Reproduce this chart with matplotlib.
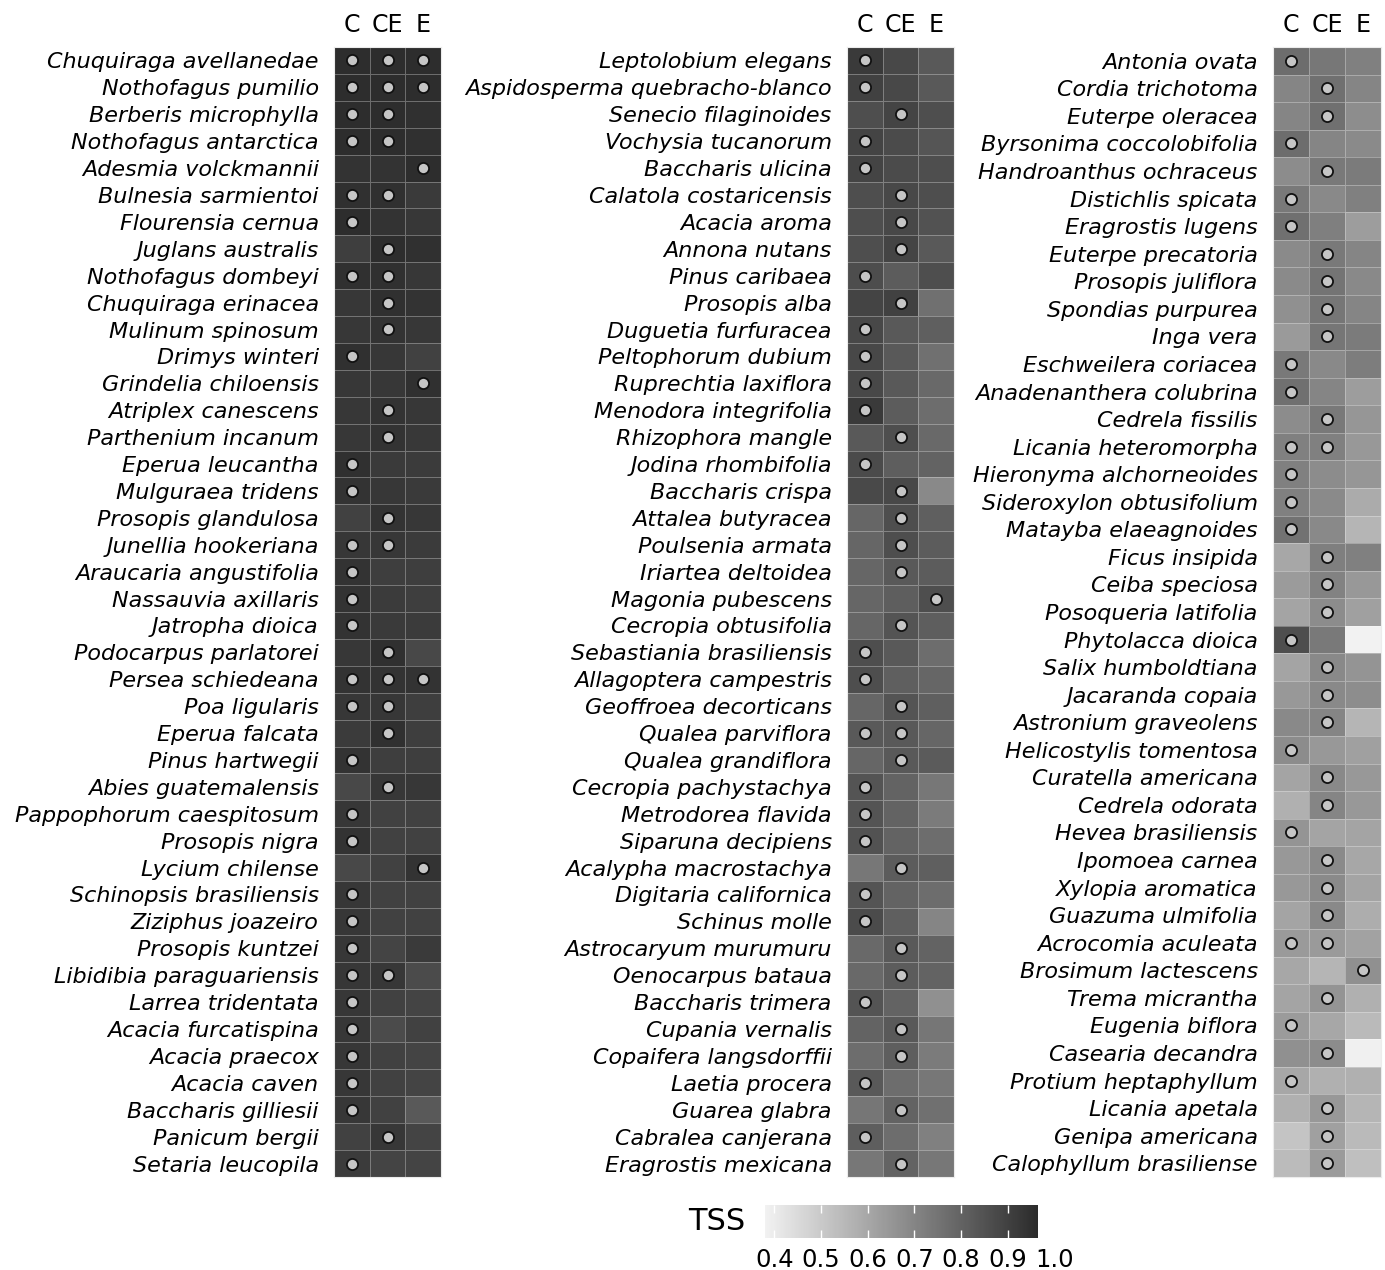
import numpy as np
import matplotlib
matplotlib.use("Agg")
import matplotlib.pyplot as plt
from matplotlib.colors import LinearSegmentedColormap, Normalize
from matplotlib.cm import ScalarMappable
from matplotlib.transforms import blended_transform_factory

plt.rcParams["font.family"] = ["DejaVu Sans"]

MODELS = ["C", "CE", "E"]

# ---- panel 1 -------------------------------------------------------------
SPECIES_1 = [
    "Chuquiraga avellanedae", "Nothofagus pumilio", "Berberis microphylla",
    "Nothofagus antarctica", "Adesmia volckmannii", "Bulnesia sarmientoi",
    "Flourensia cernua", "Juglans australis", "Nothofagus dombeyi",
    "Chuquiraga erinacea", "Mulinum spinosum", "Drimys winteri",
    "Grindelia chiloensis", "Atriplex canescens", "Parthenium incanum",
    "Eperua leucantha", "Mulguraea tridens", "Prosopis glandulosa",
    "Junellia hookeriana", "Araucaria angustifolia", "Nassauvia axillaris",
    "Jatropha dioica", "Podocarpus parlatorei", "Persea schiedeana",
    "Poa ligularis", "Eperua falcata", "Pinus hartwegii",
    "Abies guatemalensis", "Pappophorum caespitosum", "Prosopis nigra",
    "Lycium chilense", "Schinopsis brasiliensis", "Ziziphus joazeiro",
    "Prosopis kuntzei", "Libidibia paraguariensis", "Larrea tridentata",
    "Acacia furcatispina", "Acacia praecox", "Acacia caven",
    "Baccharis gilliesii", "Panicum bergii", "Setaria leucopila",
]
TSS_1_C = [0.96, 0.96, 0.96, 0.96, 0.94, 0.95, 0.96, 0.91, 0.95, 0.93, 0.93,
           0.95, 0.93, 0.93, 0.93, 0.95, 0.94, 0.90, 0.93, 0.94, 0.94, 0.94,
           0.93, 0.94, 0.93, 0.915, 0.94, 0.88, 0.93, 0.94, 0.88, 0.93, 0.93,
           0.93, 0.93, 0.93, 0.93, 0.93, 0.93, 0.93, 0.90, 0.915]
TSS_1_CE = [0.96, 0.96, 0.96, 0.96, 0.94, 0.95, 0.94, 0.96, 0.95, 0.95, 0.94,
            0.93, 0.93, 0.94, 0.94, 0.92, 0.93, 0.94, 0.93, 0.91, 0.915, 0.92,
            0.95, 0.94, 0.93, 0.95, 0.91, 0.93, 0.90, 0.90, 0.90, 0.90, 0.90,
            0.89, 0.93, 0.90, 0.87, 0.90, 0.90, 0.90, 0.93, 0.89]
TSS_1_E = [0.96, 0.96, 0.95, 0.95, 0.96, 0.92, 0.93, 0.95, 0.93, 0.94, 0.93,
           0.90, 0.95, 0.93, 0.925, 0.915, 0.92, 0.93, 0.915, 0.91, 0.91,
           0.915, 0.88, 0.94, 0.91, 0.91, 0.91, 0.93, 0.90, 0.90, 0.94, 0.90,
           0.90, 0.92, 0.87, 0.89, 0.90, 0.89, 0.89, 0.83, 0.89, 0.89]
BEST_1 = ["C CE E", "C CE E", "C CE", "C CE", "E", "C CE", "C", "CE", "C CE",
          "CE", "CE", "C", "E", "CE", "CE", "C", "C", "CE", "C CE", "C", "C",
          "C", "CE", "C CE E", "C CE", "CE", "C", "CE", "C", "C", "E", "C",
          "C", "C", "C CE", "C", "C", "C", "C", "C", "CE", "C"]

# ---- panel 2 -------------------------------------------------------------
SPECIES_2 = [
    "Leptolobium elegans", "Aspidosperma quebracho-blanco",
    "Senecio filaginoides", "Vochysia tucanorum", "Baccharis ulicina",
    "Calatola costaricensis", "Acacia aroma", "Annona nutans",
    "Pinus caribaea", "Prosopis alba", "Duguetia furfuracea",
    "Peltophorum dubium", "Ruprechtia laxiflora", "Menodora integrifolia",
    "Rhizophora mangle", "Jodina rhombifolia", "Baccharis crispa",
    "Attalea butyracea", "Poulsenia armata", "Iriartea deltoidea",
    "Magonia pubescens", "Cecropia obtusifolia", "Sebastiania brasiliensis",
    "Allagoptera campestris", "Geoffroea decorticans", "Qualea parviflora",
    "Qualea grandiflora", "Cecropia pachystachya", "Metrodorea flavida",
    "Siparuna decipiens", "Acalypha macrostachya", "Digitaria californica",
    "Schinus molle", "Astrocaryum murumuru", "Oenocarpus bataua",
    "Baccharis trimera", "Cupania vernalis", "Copaifera langsdorffii",
    "Laetia procera", "Guarea glabra", "Cabralea canjerana",
    "Eragrostis mexicana",
]
TSS_2_C = [0.92, 0.90, 0.86, 0.89, 0.89, 0.86, 0.86, 0.86, 0.865, 0.89, 0.88,
           0.88, 0.88, 0.92, 0.83, 0.87, 0.875, 0.79, 0.79, 0.79, 0.79, 0.79,
           0.86, 0.86, 0.79, 0.83, 0.79, 0.845, 0.845, 0.85, 0.74, 0.845,
           0.87, 0.78, 0.78, 0.845, 0.80, 0.77, 0.83, 0.745, 0.815, 0.74]
TSS_2_CE = [0.88, 0.88, 0.89, 0.87, 0.87, 0.88, 0.88, 0.89, 0.82, 0.90, 0.83,
            0.83, 0.83, 0.82, 0.86, 0.815, 0.88, 0.86, 0.86, 0.83, 0.815,
            0.845, 0.83, 0.81, 0.845, 0.83, 0.83, 0.80, 0.80, 0.80, 0.82,
            0.80, 0.81, 0.83, 0.82, 0.80, 0.83, 0.815, 0.77, 0.80, 0.77, 0.80]
TSS_2_E = [0.83, 0.83, 0.86, 0.84, 0.86, 0.86, 0.85, 0.83, 0.86, 0.76, 0.81,
           0.76, 0.78, 0.77, 0.78, 0.80, 0.69, 0.81, 0.82, 0.82, 0.86, 0.815,
           0.77, 0.79, 0.81, 0.79, 0.825, 0.74, 0.73, 0.77, 0.81, 0.77, 0.70,
           0.80, 0.80, 0.67, 0.745, 0.73, 0.74, 0.76, 0.715, 0.74]
BEST_2 = ["C", "C", "CE", "C", "C", "CE", "CE", "CE", "C", "CE", "C", "C",
          "C", "C", "CE", "C", "CE", "CE", "CE", "CE", "E", "CE", "C", "C",
          "CE", "C CE", "CE", "C", "C", "C", "CE", "C", "C", "CE", "CE", "C",
          "CE", "CE", "C", "CE", "C", "CE"]

# ---- panel 3 -------------------------------------------------------------
SPECIES_3 = [
    "Antonia ovata", "Cordia trichotoma", "Euterpe oleracea",
    "Byrsonima coccolobifolia", "Handroanthus ochraceus", "Distichlis spicata",
    "Eragrostis lugens", "Euterpe precatoria", "Prosopis juliflora",
    "Spondias purpurea", "Inga vera", "Eschweilera coriacea",
    "Anadenanthera colubrina", "Cedrela fissilis", "Licania heteromorpha",
    "Hieronyma alchorneoides", "Sideroxylon obtusifolium",
    "Matayba elaeagnoides", "Ficus insipida", "Ceiba speciosa",
    "Posoqueria latifolia", "Phytolacca dioica", "Salix humboldtiana",
    "Jacaranda copaia", "Astronium graveolens", "Helicostylis tomentosa",
    "Curatella americana", "Cedrela odorata", "Hevea brasiliensis",
    "Ipomoea carnea", "Xylopia aromatica", "Guazuma ulmifolia",
    "Acrocomia aculeata", "Brosimum lactescens", "Trema micrantha",
    "Eugenia biflora", "Casearia decandra", "Protium heptaphyllum",
    "Licania apetala", "Genipa americana", "Calophyllum brasiliense",
]
TSS_3_C = [0.77, 0.70, 0.70, 0.77, 0.68, 0.735, 0.76, 0.685, 0.685, 0.67,
           0.64, 0.735, 0.76, 0.68, 0.715, 0.715, 0.715, 0.755, 0.60, 0.635,
           0.61, 0.86, 0.61, 0.645, 0.69, 0.68, 0.61, 0.575, 0.655, 0.645,
           0.645, 0.61, 0.64, 0.60, 0.61, 0.635, 0.67, 0.60, 0.575, 0.515,
           0.54]
TSS_3_CE = [0.74, 0.76, 0.76, 0.70, 0.735, 0.69, 0.72, 0.735, 0.75, 0.745,
            0.745, 0.69, 0.70, 0.735, 0.715, 0.68, 0.685, 0.69, 0.72, 0.71,
            0.68, 0.735, 0.69, 0.69, 0.70, 0.645, 0.69, 0.70, 0.61, 0.685,
            0.685, 0.69, 0.64, 0.56, 0.655, 0.60, 0.68, 0.575, 0.645, 0.62,
            0.635]
TSS_3_E = [0.715, 0.70, 0.675, 0.685, 0.73, 0.715, 0.63, 0.70, 0.69, 0.70,
           0.73, 0.725, 0.63, 0.65, 0.645, 0.65, 0.59, 0.56, 0.715, 0.645,
           0.62, 0.38, 0.655, 0.675, 0.56, 0.62, 0.645, 0.645, 0.61, 0.60,
           0.61, 0.585, 0.615, 0.67, 0.575, 0.545, 0.386, 0.575, 0.56, 0.545,
           0.53]
BEST_3 = ["C", "CE", "CE", "C", "CE", "C", "C", "CE", "CE", "CE", "CE", "C",
          "C", "CE", "C CE", "C", "C", "C", "CE", "CE", "CE", "C", "CE", "CE",
          "CE", "C", "CE", "CE", "C", "CE", "CE", "CE", "C CE", "E", "CE", "C",
          "CE", "C", "CE", "CE", "CE"]

TSS_MIN, TSS_MAX = 0.38, 0.965
CBAR_TICKS = [0.4, 0.5, 0.6, 0.7, 0.8, 0.9, 1.0]

cmap = LinearSegmentedColormap.from_list("tss", ["#f2f2f2", "#2b2b2b"])
norm = Normalize(vmin=TSS_MIN, vmax=TSS_MAX)

W, H = 1385, 1270
fig = plt.figure(figsize=(W / 100, H / 100), dpi=100)


def draw_panel(left_px, width_px, species, c, ce, e, best):
    ax = fig.add_axes([left_px / W, 1 - 1177 / H, width_px / W, 1130 / H])
    grid = np.column_stack([c, ce, e])
    n = len(species)
    ax.pcolormesh(np.arange(4), np.arange(n + 1), grid, cmap=cmap, norm=norm,
                  edgecolors=(1, 1, 1, 0.3), linewidth=0.6)

    # dots mark the selected model(s) for each species
    for row, models in enumerate(best):
        for m in models.split():
            ax.plot(MODELS.index(m) + 0.5, row + 0.5, "o", ms=8,
                    mfc="#c6c6c6", mec="#111111", mew=1.3)

    ax.set_xlim(0, 3)
    ax.set_ylim(n, 0)
    ax.set_xticks(np.arange(3) + 0.5, MODELS, fontsize=17)
    ax.xaxis.tick_top()
    ax.set_yticks(np.arange(n) + 0.5, species, fontsize=16, style="italic")
    ax.tick_params(length=0)
    ax.tick_params(axis="x", pad=7)
    ax.tick_params(axis="y", pad=11)
    for sp in ax.spines.values():
        sp.set_color("#ececec")
        sp.set_linewidth(0.8)
    return ax


draw_panel(334, 107, SPECIES_1, TSS_1_C, TSS_1_CE, TSS_1_E, BEST_1)
draw_panel(847, 107, SPECIES_2, TSS_2_C, TSS_2_CE, TSS_2_E, BEST_2)
draw_panel(1273, 108, SPECIES_3, TSS_3_C, TSS_3_CE, TSS_3_E, BEST_3)

# colour bar
cax = fig.add_axes([765 / W, 1 - 1238 / H, 273 / W, 33 / H])
cbar = fig.colorbar(ScalarMappable(norm=norm, cmap=cmap), cax=cax,
                    orientation="horizontal")
cbar.outline.set_visible(False)
inside = [t for t in CBAR_TICKS if t <= TSS_MAX]
cbar.set_ticks(inside, labels=[f"{t:.1f}" for t in inside])
cax.tick_params(axis="x", direction="in", length=6, width=1, color="white",
                top=True, bottom=True, labelsize=17.5, pad=7)
# the last break sits past the end of the bar, so label it by hand
trans = blended_transform_factory(cax.transData, cax.transAxes)
for t in CBAR_TICKS:
    if t > TSS_MAX:
        cax.text(t, -9.7 / 33, f"{t:.1f}", transform=trans, ha="center",
                 va="top", fontsize=17.5, clip_on=False)
fig.text(688 / W, 1 - 1222 / H, "TSS", fontsize=22, ha="left", va="center")

fig.savefig("out.png", dpi=100)
